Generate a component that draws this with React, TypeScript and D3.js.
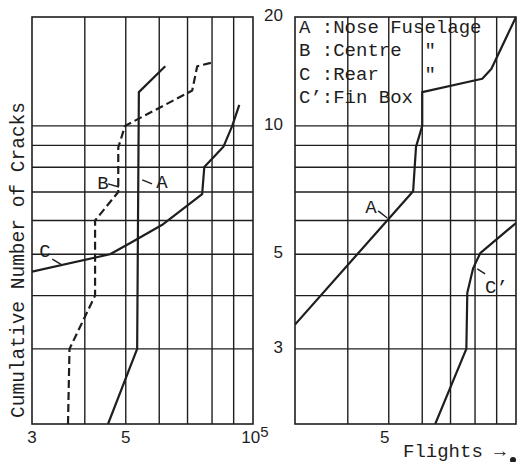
import React, { useEffect, useRef } from 'react';
import * as d3 from 'd3';

// flights (x, in units of the panel's decade) vs cumulative cracks (y)
const xGridValues = [4, 5, 6, 7, 8, 9];
const yGridValues = [3, 4, 5, 6, 7, 8, 9, 10];
const yTickLabels = [3, 5, 10, 20];
const leftXTickLabels = ['3', '5'];
const leftXTickValues = [3, 5];
const rightXTickLabels = ['5'];
const rightXTickValues = [5];

const leftA = [[4.54, 2], [5.32, 3], [5.37, 12], [6.2, 13.8]];
const leftB = [[3.65, 2], [3.68, 3], [4.23, 4], [4.23, 6], [4.8, 7], [4.8, 8.9], [4.98, 10], [7.18, 12.1], [7.38, 13.8], [8.05, 14.1]];
const leftC = [[3.0, 4.55], [4.59, 5.0], [5.15, 5.33], [6.13, 5.88], [7.58, 6.92], [7.67, 8.01], [8.51, 8.93], [8.93, 10], [9.28, 11.2]];
const rightA = [[3.0, 3.42], [5.71, 7.03], [5.8, 8.93], [6.0, 10], [6.0, 12.0], [8.32, 12.9], [8.74, 13.6], [10, 18]];
const rightCp = [[6.44, 2], [7.63, 3.0], [7.67, 4.06], [7.92, 4.64], [8.23, 5.03], [10, 5.92]];

// curve labels: text, leader from -> to, text start (all in chart units)
const leftLabels = [
  { text: 'A', from: [5.47, 7.47], to: [5.77, 7.31], at: [5.9, 7.15] },
  { text: 'B', from: [4.54, 7.31], to: [4.82, 7.19], at: [4.28, 7.11] },
  { text: 'C', from: [3.35, 4.87], to: [3.53, 4.72], at: [3.12, 4.93] },
];
const rightLabels = [
  { text: 'A', from: [4.72, 6.32], to: [4.96, 6.08], at: [4.4, 6.25] },
  { text: 'C’', from: [8.1, 4.62], to: [8.45, 4.5], at: [8.45, 4.06] },
];

const legendKeys = ['A', 'B', 'C', 'C’'];
const legendNames = ['Nose Fuselage', 'Centre  "', 'Rear    "', 'Fin Box'];

export default function App() {
  const svgRef = useRef<SVGSVGElement>(null);

  useEffect(() => {
    const w = 517;
    const h = 462;
    const top = 17;
    const bottom = 424;
    const ink = '#1e1e1e';
    const mono = '"Liberation Mono", "DejaVu Sans Mono", monospace';
    const sans = '"Liberation Sans", Arial, sans-serif';

    const svg = d3.select(svgRef.current)
      .attr('width', w)
      .attr('height', h)
      .style('background', 'white');
    svg.selectAll('*').remove();

    const y = d3.scaleLog().domain([2, 18]).range([bottom, top]).clamp(true);
    const xLeft = d3.scaleLog().domain([3, 10]).range([32, 253]);
    const xRight = d3.scaleLog().domain([3, 10]).range([295, 516]);

    const panels = [
      { id: 'left', x: xLeft, curves: [leftA, leftB, leftC], dashed: [false, true, false], labels: leftLabels },
      { id: 'right', x: xRight, curves: [rightA, rightCp], dashed: [false, false], labels: rightLabels },
    ];

    panels.forEach(p => {
      const [x0, x1] = p.x.range();
      const g = svg.append('g');

      g.append('clipPath').attr('id', 'clip-' + p.id)
        .append('rect').attr('x', x0).attr('y', top).attr('width', x1 - x0).attr('height', bottom - top);

      g.selectAll('.vgrid').data(xGridValues).join('line')
        .attr('x1', d => p.x(d)).attr('x2', d => p.x(d))
        .attr('y1', top).attr('y2', bottom)
        .attr('stroke', ink).attr('stroke-width', 1.4);

      g.selectAll('.hgrid').data(yGridValues).join('line')
        .attr('x1', x0).attr('x2', x1)
        .attr('y1', d => y(d)).attr('y2', d => y(d))
        .attr('stroke', ink).attr('stroke-width', 1.4);

      g.append('rect')
        .attr('x', x0).attr('y', top).attr('width', x1 - x0).attr('height', bottom - top)
        .attr('fill', 'none').attr('stroke', ink).attr('stroke-width', 1.6);

      const line = d3.line<number[]>().x(d => p.x(d[0])).y(d => y(d[1]));
      g.append('g').attr('clip-path', `url(#clip-${p.id})`)
        .selectAll('path').data(p.curves).join('path')
        .attr('d', d => line(d))
        .attr('fill', 'none')
        .attr('stroke', ink)
        .attr('stroke-width', 2.2)
        .attr('stroke-linejoin', 'round')
        .attr('stroke-dasharray', (d, i) => p.dashed[i] ? '8,4' : null);

      g.selectAll('.leader').data(p.labels).join('line')
        .attr('x1', d => p.x(d.from[0])).attr('y1', d => y(d.from[1]))
        .attr('x2', d => p.x(d.to[0])).attr('y2', d => y(d.to[1]))
        .attr('stroke', ink).attr('stroke-width', 1.4);

      g.selectAll('.clabel').data(p.labels).join('text')
        .attr('x', d => p.x(d.at[0])).attr('y', d => y(d.at[1]))
        .attr('font-family', mono).attr('font-size', 19).attr('fill', ink)
        .text(d => d.text);
    });

    // x tick labels
    const tickStyle = (sel: any) => sel.attr('font-family', sans).attr('font-size', 17).attr('fill', ink).attr('text-anchor', 'middle');
    svg.selectAll('.lxt').data(leftXTickValues).join('text')
      .attr('x', d => xLeft(d)).attr('y', 443).call(tickStyle)
      .text((d, i) => leftXTickLabels[i]);
    const pow = svg.append('text').attr('x', xLeft(10) + 2).attr('y', 443).call(tickStyle);
    pow.append('tspan').text('10');
    pow.append('tspan').attr('dy', -6).attr('font-size', 15).text('5');
    svg.selectAll('.rxt').data(rightXTickValues).join('text')
      .attr('x', d => xRight(d) - 4).attr('y', 443).call(tickStyle)
      .text((d, i) => rightXTickLabels[i]);

    // y tick labels between the panels
    svg.selectAll('.yt').data(yTickLabels).join('text')
      .attr('x', 283).attr('y', d => y(d) + 4)
      .attr('font-family', sans).attr('font-size', 17).attr('fill', ink).attr('text-anchor', 'end')
      .text(d => d);

    // y title
    svg.append('text')
      .attr('transform', `translate(24, 260) rotate(-90)`)
      .attr('text-anchor', 'middle')
      .attr('font-family', mono).attr('font-size', 19.5).attr('fill', ink)
      .text('Cumulative Number of Cracks');

    // x title
    svg.append('text')
      .attr('x', 403).attr('y', 457)
      .attr('font-family', mono).attr('font-size', 19).attr('fill', ink)
      .attr('xml:space', 'preserve')
      .text('Flights →');
    svg.append('circle').attr('cx', 513).attr('cy', 460).attr('r', 3).attr('fill', ink);

    // legend: typed rows, key padded to two columns then colon
    svg.append('g').attr('font-family', mono).attr('font-size', 19).attr('fill', ink)
      .selectAll('text').data(legendKeys).join('text')
      .attr('x', 299).attr('y', (d, i) => 33 + i * 23.4)
      .attr('xml:space', 'preserve').style('white-space', 'pre')
      .text((d, i) => (d.length > 1 ? d : d + ' ') + ':' + legendNames[i]);
  }, []);

  return (
    <div style={{ position: 'absolute', left: 0, top: 0 }}>
      <svg ref={svgRef}></svg>
    </div>
  );
}
